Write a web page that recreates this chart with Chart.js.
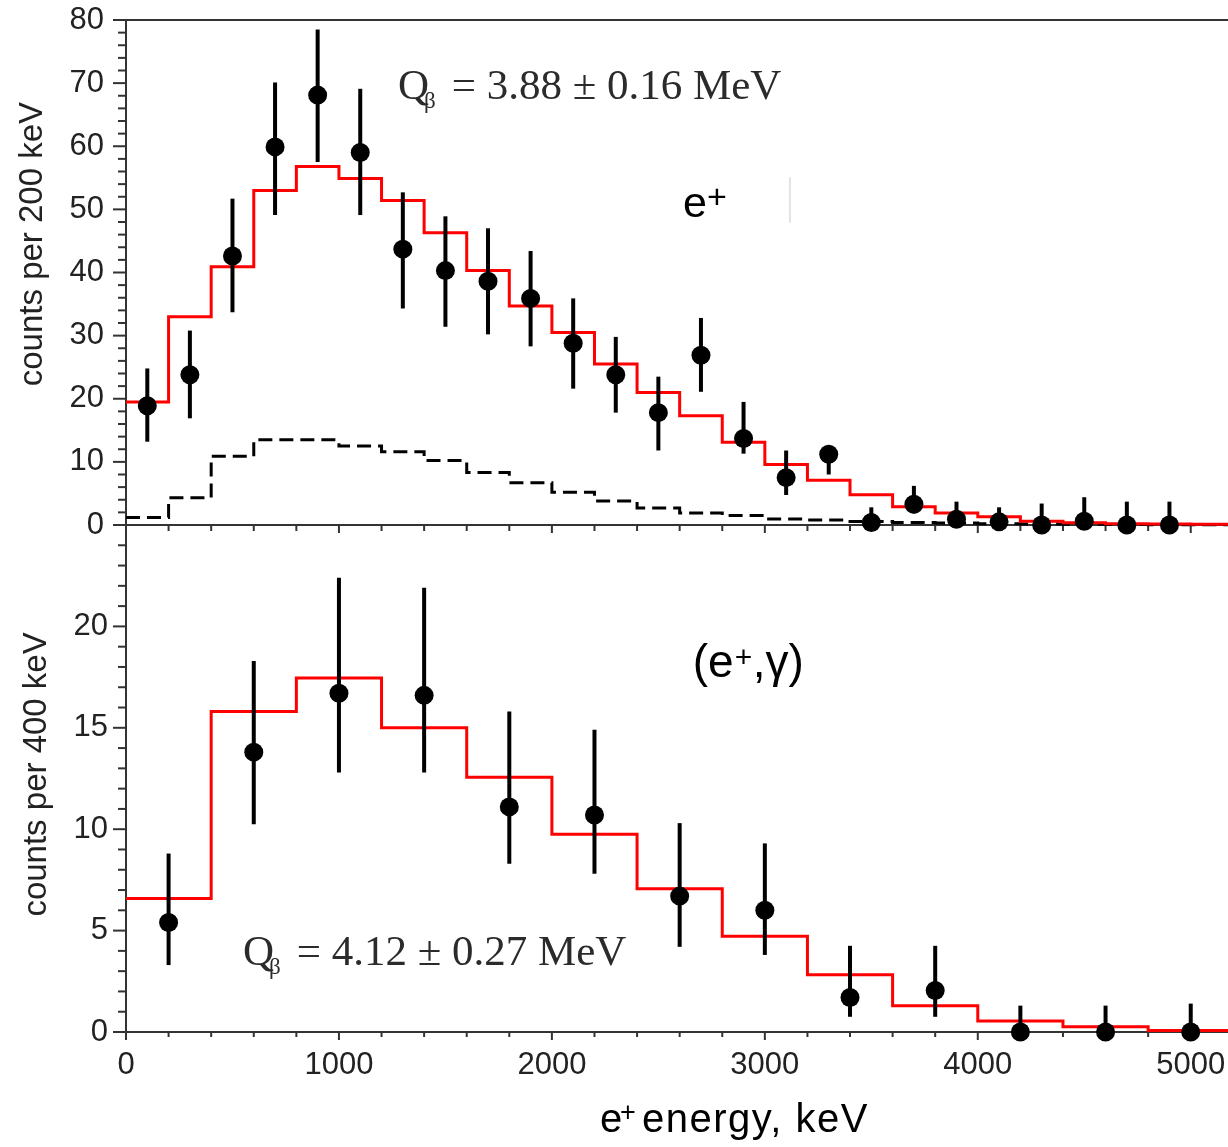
<!DOCTYPE html>
<html>
<head>
<meta charset="utf-8">
<title>Positron spectra</title>
<script src="https://cdn.jsdelivr.net/npm/chart.js@4.4.0/dist/chart.umd.min.js"></script>
<style>
  html, body { margin: 0; padding: 0; background: #fff; }
  #wrap { width: 1228px; height: 1147px; overflow: hidden; }
</style>
</head>
<body>
<div id="wrap"><canvas id="spectra" width="1228" height="1147"></canvas></div>
<script>
// axis ticks
const xTicks = [0, 1000, 2000, 3000, 4000, 5000];
const topTicks = [0, 10, 20, 30, 40, 50, 60, 70, 80];
const botTicks = [0, 5, 10, 15, 20];

// bin widths in keV
const topBinWidth = 200;
const botBinWidth = 400;

// e+ singles, counts per 200 keV
const topCounts  = [18.9, 23.8, 42.6, 59.9, 68.1, 59.0, 43.7, 40.3, 38.6, 35.9, 28.8, 23.8, 17.8, 26.9, 13.7, 7.5, 11.2, 0.4, 3.3, 0.9, 0.5, 0, 0.6, 0, 0];
const topErrUp   = [5.9, 7.0, 9.1, 10.2, 10.4, 10.1, 9.0, 8.6, 8.4, 7.5, 7.1, 6.0, 5.7, 5.9, 5.8, 4.3, 1.0, 2.4, 2.9, 2.8, 2.3, 3.4, 3.8, 3.7, 3.7];
const topErrDown = [5.7, 6.9, 8.9, 10.8, 10.6, 9.9, 9.4, 8.9, 8.4, 7.6, 7.2, 6.0, 6.0, 5.8, 2.4, 2.75, 3.2, 0.4, 1.45, 0.9, 0.5, 0, 0.6, 0, 0];
const topFit     = [19.5, 33.0, 40.9, 53.0, 56.8, 54.9, 51.4, 46.3, 40.3, 34.7, 30.5, 25.5, 21.0, 17.3, 13.1, 9.6, 7.1, 4.8, 2.9, 1.9, 1.3, 0.6, 0.35, 0.2, 0.15, 0.1];
const topBackground = [1.2, 4.3, 10.9, 13.5, 13.5, 12.5, 11.6, 10.2, 8.3, 6.7, 5.2, 3.8, 2.7, 1.9, 1.5, 0.95, 0.8, 0.55, 0.4, 0.3, 0.2, 0.15, 0.1, 0.08, 0.05, 0.03];

// (e+, gamma) coincidences, counts per 400 keV
const botCounts  = [5.4, 13.8, 16.7, 16.6, 11.1, 10.7, 6.7, 6.0, 1.7, 2.05, 0, 0, 0];
const botErrUp   = [3.4, 4.5, 5.7, 5.3, 4.7, 4.2, 3.6, 3.3, 2.55, 2.2, 1.3, 1.3, 1.4];
const botErrDown = [2.1, 3.55, 3.9, 3.8, 2.8, 2.9, 2.5, 2.2, 0.95, 1.3, 0, 0, 0];
const botFit     = [6.58, 15.8, 17.46, 15.0, 12.56, 9.75, 7.06, 4.72, 2.82, 1.3, 0.54, 0.26, 0.07];

const SANS = '"Liberation Sans", Arial, Helvetica, sans-serif';
const SERIF = '"Liberation Serif", "Times New Roman", serif';
const axisColor = '#333';
const labelColor = '#222';

// points at bin centres
function centres(values, width) {
    return values.map((v, i) => ({ x: (i + 0.5) * width, y: v }));
}

// histogram outline: one point per lower bin edge, plus the closing edge
function steps(values, width) {
    const pts = values.map((v, i) => ({ x: i * width, y: v }));
    pts.push({ x: values.length * width, y: values[values.length - 1] });
    return pts;
}

// free text, anchored in data units (x in keV, y on the named axis)
const panelNotes = [
    { axis: 'yTop', x: 1277, y: 67.5, color: '#2b2b2b', parts: [
        { text: 'Q', font: '43px ' + SERIF, dx: 0, dy: 0 },
        { text: 'β', font: '23px ' + SERIF, dx: 26, dy: 9 },
        { text: ' = 3.88 ± 0.16 MeV', font: '43px ' + SERIF, dx: 43, dy: 0 }
    ] },
    { axis: 'yTop', x: 2616, y: 48.8, color: '#000', parts: [
        { text: 'e', font: '43px ' + SANS, dx: 0, dy: 0 },
        { text: '+', font: '34px ' + SANS, dx: 24, dy: -9 }
    ] },
    { axis: 'yBot', x: 2661, y: 17.5, color: '#000', parts: [
        { text: '(e', font: '46px ' + SANS, dx: 0, dy: 0 },
        { text: '+', font: '30px ' + SANS, dx: 42, dy: -10 },
        { text: ',γ)', font: '46px ' + SANS, dx: 60, dy: 0 }
    ] },
    { axis: 'yBot', x: 549, y: 3.3, color: '#2b2b2b', parts: [
        { text: 'Q', font: '43px ' + SERIF, dx: 0, dy: 0 },
        { text: 'β', font: '23px ' + SERIF, dx: 26, dy: 9 },
        { text: ' = 4.12 ± 0.27 MeV', font: '43px ' + SERIF, dx: 43, dy: 0 }
    ] }
];

// error bars, drawn just before the markers of a dataset that carries them
const errorBars = {
    id: 'errorBars',
    beforeDatasetDraw(chart, args) {
        const ds = chart.data.datasets[args.index];
        if (!ds.errUp) return;
        const ctx = chart.ctx;
        const yScale = chart.scales[ds.yAxisID];
        ctx.save();
        ctx.strokeStyle = '#000';
        ctx.lineWidth = 4;
        args.meta.data.forEach((pt, i) => {
            const v = ds.data[i].y;
            ctx.beginPath();
            ctx.moveTo(pt.x, yScale.getPixelForValue(v + ds.errUp[i]));
            ctx.lineTo(pt.x, yScale.getPixelForValue(v - ds.errDown[i]));
            ctx.stroke();
        });
        ctx.restore();
    }
};

// panel frame lines and major/minor tick marks
const frameTicks = {
    id: 'frameTicks',
    beforeDatasetsDraw(chart) {
        const { ctx, scales: { x, yTop, yBot } } = chart;
        const seg = (x1, y1, x2, y2) => {
            ctx.beginPath();
            ctx.moveTo(x1, y1);
            ctx.lineTo(x2, y2);
            ctx.stroke();
        };
        ctx.save();
        ctx.strokeStyle = axisColor;
        ctx.lineWidth = 2;
        seg(x.left, yTop.top, x.right, yTop.top);
        seg(x.left, yTop.bottom, x.right, yTop.bottom);
        for (let v = yTop.min; v <= yTop.max; v += 2) {
            const py = yTop.getPixelForValue(v);
            seg(x.left - (v % 10 === 0 ? 13 : 8), py, x.left, py);
        }
        for (let v = yBot.min; v < yBot.max; v += 1) {
            const py = yBot.getPixelForValue(v);
            seg(x.left - (v % 5 === 0 ? 13 : 8), py, x.left, py);
        }
        for (let k = 0; k <= x.max; k += 200) {
            const px = x.getPixelForValue(k);
            const major = k % 1000 === 0;
            seg(px, yBot.bottom, px, yBot.bottom + (major ? 8 : 5));
            seg(px, yTop.bottom, px, yTop.bottom + (major ? 8 : 6));
        }
        ctx.restore();
    }
};

// notes and axis titles
const textLayer = {
    id: 'textLayer',
    afterDraw(chart) {
        const { ctx, scales } = chart;
        const { x, yTop, yBot } = scales;
        ctx.save();
        ctx.textAlign = 'left';
        ctx.textBaseline = 'alphabetic';
        panelNotes.forEach(note => {
            const px = x.getPixelForValue(note.x);
            const py = scales[note.axis].getPixelForValue(note.y);
            ctx.fillStyle = note.color;
            note.parts.forEach(p => {
                ctx.font = p.font;
                ctx.fillText(p.text, px + p.dx, py + p.dy);
            });
        });

        // faint stray rule beside the e+ tag
        ctx.strokeStyle = '#dcdcdc';
        ctx.lineWidth = 1.5;
        ctx.beginPath();
        ctx.moveTo(x.getPixelForValue(3118), yTop.getPixelForValue(55.1));
        ctx.lineTo(x.getPixelForValue(3118), yTop.getPixelForValue(47.9));
        ctx.stroke();

        // x title
        const tx = x.getPixelForValue(2226);
        const ty = yBot.bottom + 100;
        ctx.fillStyle = '#000';
        ctx.font = '40px ' + SANS;
        ctx.fillText('e', tx, ty);
        ctx.font = '27px ' + SANS;
        ctx.fillText('+', tx + 20, ty - 11);
        ctx.font = '40px ' + SANS;
        ctx.letterSpacing = '1.5px';
        ctx.fillText('energy, keV', tx + 42, ty);
        ctx.letterSpacing = '0px';

        // y titles
        ctx.fillStyle = labelColor;
        ctx.font = '33px ' + SANS;
        ctx.textAlign = 'center';
        ctx.textBaseline = 'middle';
        [[yTop, 33, 44.5, 'counts per 200 keV'], [yBot, 37, 12.7, 'counts per 400 keV']].forEach(([s, off, v, label]) => {
            ctx.save();
            ctx.translate(s.left + off, s.getPixelForValue(v));
            ctx.rotate(-Math.PI / 2);
            ctx.fillText(label, 0, 0);
            ctx.restore();
        });
        ctx.restore();
    }
};

const tickFont = { family: SANS, size: 31 };

const ctx = document.getElementById('spectra').getContext('2d');
const spectra = new Chart(ctx, {
    type: 'scatter',
    data: {
        datasets: [{
            label: 'e+ data',
            data: centres(topCounts, topBinWidth),
            errUp: topErrUp,
            errDown: topErrDown,
            yAxisID: 'yTop',
            pointRadius: 9.5,
            pointHoverRadius: 9.5,
            backgroundColor: '#000',
            borderWidth: 0,
            clip: false
        }, {
            label: '(e+,γ) data',
            data: centres(botCounts, botBinWidth),
            errUp: botErrUp,
            errDown: botErrDown,
            yAxisID: 'yBot',
            pointRadius: 9.5,
            pointHoverRadius: 9.5,
            backgroundColor: '#000',
            borderWidth: 0,
            clip: false
        }, {
            type: 'line',
            label: 'e+ fit',
            data: steps(topFit, topBinWidth),
            yAxisID: 'yTop',
            stepped: 'before',
            borderColor: '#ff0000',
            borderWidth: 3,
            pointRadius: 0,
            fill: false,
            clip: false
        }, {
            type: 'line',
            label: '(e+,γ) fit',
            data: steps(botFit, botBinWidth),
            yAxisID: 'yBot',
            stepped: 'before',
            borderColor: '#ff0000',
            borderWidth: 3,
            pointRadius: 0,
            fill: false,
            clip: false
        }, {
            type: 'line',
            label: 'background',
            data: steps(topBackground, topBinWidth),
            yAxisID: 'yTop',
            stepped: 'before',
            borderColor: '#000',
            borderWidth: 3,
            borderDash: [14, 7],
            pointRadius: 0,
            fill: false,
            clip: false
        }]
    },
    options: {
        responsive: false,
        animation: false,
        devicePixelRatio: 1,
        layout: { autoPadding: false, padding: { top: 20, left: 0, right: 0, bottom: 0 } },
        plugins: {
            legend: { display: false },
            tooltip: { enabled: false }
        },
        scales: {
            x: {
                type: 'linear',
                min: 0,
                max: 5175,
                // invisible tick length keeps the labels clear of the axis
                grid: { display: false, drawTicks: true, tickLength: 15, tickColor: 'rgba(0,0,0,0)' },
                border: { display: true, color: axisColor, width: 2 },
                ticks: { font: tickFont, color: labelColor, padding: 0, maxRotation: 0, autoSkip: false, callback: v => String(v) },
                afterBuildTicks: s => { s.ticks = xTicks.map(v => ({ value: v })); },
                afterFit: s => { s.height = 115; s.paddingLeft = 0; s.paddingRight = 0; }
            },
            yBot: {
                type: 'linear',
                position: 'left',
                stack: 'panels',
                stackWeight: 507,
                min: 0,
                max: 25,
                grid: { display: false, drawTicks: false },
                border: { display: true, color: axisColor, width: 2 },
                ticks: { font: tickFont, color: labelColor, padding: 18, autoSkip: false, callback: v => String(v) },
                afterBuildTicks: s => { s.ticks = botTicks.map(v => ({ value: v })); },
                afterFit: s => { s.width = 126; s.paddingTop = 0; s.paddingBottom = 0; }
            },
            yTop: {
                type: 'linear',
                position: 'left',
                stack: 'panels',
                stackWeight: 505,
                min: 0,
                max: 80,
                grid: { display: false, drawTicks: false },
                border: { display: true, color: axisColor, width: 2 },
                ticks: { font: tickFont, color: labelColor, padding: 22, autoSkip: false, callback: v => String(v) },
                afterBuildTicks: s => { s.ticks = topTicks.map(v => ({ value: v })); },
                afterFit: s => { s.width = 126; s.paddingTop = 0; s.paddingBottom = 0; }
            }
        }
    },
    plugins: [frameTicks, errorBars, textLayer]
});
</script>
</body>
</html>
